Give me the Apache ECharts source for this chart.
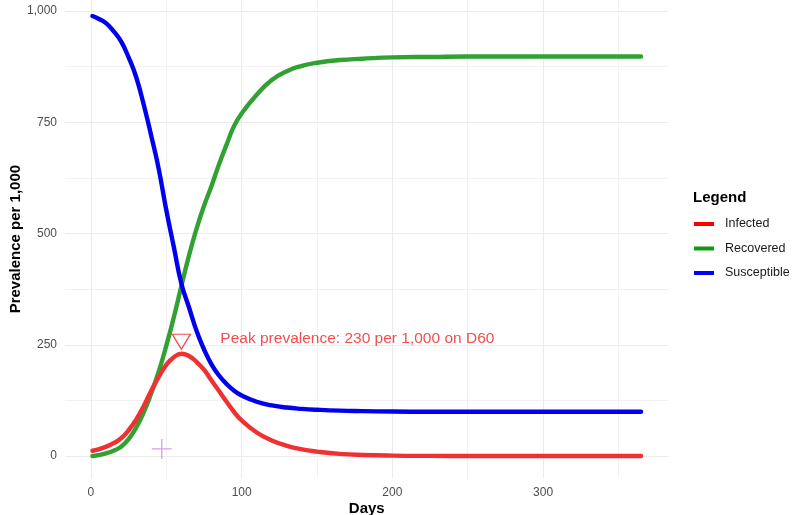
<!DOCTYPE html>
<html><head><meta charset="utf-8">
<script src="https://cdn.jsdelivr.net/npm/echarts@6/dist/echarts.min.js"></script>
<style>html,body{margin:0;padding:0;background:#fff}#c{width:792px;height:515px}</style>
</head><body><div id="c"></div>
<script>
const days        = [1,5,10,15,20,25,30,35,40,45,50,55,60,65,70,75,80,85,90,95,100,110,120,130,140,150,165,180,200,225,250,300,365];
const susceptible = [989,983,973,955,932,896,852,790,720,645,553,470,388,335,282,240,206,181,162,147,136,122,114,109,106,104,102,101,100,99.5,99.5,99.5,99.5];
const infected    = [12,15,21,29,40,58,82,112,147,178,205,222,230,225,212,194,170,146,122,99,80,53,35,23,15,10,5,2.5,1,0.4,0.2,0,0];
const recovered   = [0,2,6,12,21,38,64,98,141,190,248,312,382,450,510,562,607,656,700,742,770,812,845,865,877,884,890,893,896,897,898,898,898];

const seriesNames = ['Infected','Recovered','Susceptible'];
const lineColors  = {Infected:'#EF3131', Recovered:'#31A131', Susceptible:'#0000EE'};
const keyColors   = {Infected:'#FF0000', Recovered:'#119911', Susceptible:'#0000FF'};

const xMajorTicks = [0,100,200,300];
const xMinorTicks = [50,150,250,350];
const yMajorTicks = [0,250,500,750,1000];
const yMinorTicks = [125,375,625,875];

const peakDay = 60, peakValue = 230;
const crossPoint = [47, 16];

const FONT = 'Liberation Sans, Arial, sans-serif';
const xMin = -17.2, xMax = 383.2, yMin = -50, yMax = 1025;

const zip = arr => days.map((d,i) => [d, arr[i]]);
const valuesByName = {Infected: infected, Recovered: recovered, Susceptible: susceptible};

function lineSeries(name, z){
  return {
    name, type:'line', data: zip(valuesByName[name]), showSymbol:false, symbol:'none',
    smooth:0.5, z,
    lineStyle:{color:lineColors[name], width:4.4, cap:'round', join:'round'},
    itemStyle:{color:lineColors[name]}
  };
}

const chart = echarts.init(document.getElementById('c'), null, {renderer:'canvas'});
chart.setOption({
  animation:false,
  textStyle:{fontFamily:FONT},
  title:{text:'Legend', left:693, top:190, padding:0, textStyle:{fontSize:15, fontWeight:'bold', color:'#000', fontFamily:FONT}},
  legend:{
    orient:'vertical', left:694, top:217, padding:0, itemWidth:20, itemHeight:4, icon:'rect', itemGap:10.5,
    data: seriesNames.map(n => ({name:n, itemStyle:{color:keyColors[n]}})),
    textStyle:{fontSize:12.5, color:'#1A1A1A', lineHeight:14, padding:[0,0,0,6], fontFamily:FONT},
    selectedMode:false
  },
  grid:{left:65, right:123.5, top:0, bottom:36.7, containLabel:false, outerBoundsMode:'none'},
  xAxis:[
    {type:'value', min:xMin, max:xMax, position:'bottom',
     axisLine:{show:false}, axisTick:{show:false, customValues:xMajorTicks},
     axisLabel:{customValues:xMajorTicks, color:'#4D4D4D', fontSize:12, margin:8, fontFamily:FONT},
     splitLine:{show:true, lineStyle:{color:'#EBEBEB', width:1}},
     name:'Days', nameLocation:'middle', nameGap:23, nameMoveOverlap:false,
     nameTextStyle:{fontWeight:'bold', fontSize:15, color:'#000', fontFamily:FONT}},
    {type:'value', min:xMin, max:xMax, position:'bottom',
     axisLine:{show:false}, axisTick:{show:false, customValues:xMinorTicks},
     axisLabel:{show:false, customValues:xMinorTicks},
     splitLine:{show:true, lineStyle:{color:'#F1F1F1', width:1}}}
  ],
  yAxis:[
    {type:'value', min:yMin, max:yMax,
     axisLine:{show:false}, axisTick:{show:false, customValues:yMajorTicks},
     axisLabel:{customValues:yMajorTicks, color:'#4D4D4D', fontSize:12, margin:8, fontFamily:FONT,
       formatter: v => Number(v).toLocaleString('en-US')},
     splitLine:{show:true, lineStyle:{color:'#EBEBEB', width:1}},
     name:'Prevalence per 1,000', nameLocation:'middle', nameGap:42, nameMoveOverlap:false,
     nameTextStyle:{fontWeight:'bold', fontSize:15, color:'#000', fontFamily:FONT}},
    {type:'value', min:yMin, max:yMax,
     axisLine:{show:false}, axisTick:{show:false, customValues:yMinorTicks},
     axisLabel:{show:false, customValues:yMinorTicks},
     splitLine:{show:true, lineStyle:{color:'#F1F1F1', width:1}}}
  ],
  series:[
    lineSeries('Recovered', 2),
    lineSeries('Infected', 3),
    lineSeries('Susceptible', 4),
    {type:'scatter', name:'peakMarker', z:5, data:[[peakDay, peakValue]],
     symbol:'path://M0,0 L20,0 L10,17 Z', symbolSize:[18,15], symbolOffset:[0,-12],
     itemStyle:{color:'rgba(0,0,0,0)', borderColor:'#EE2222', borderWidth:1.3}},
    {type:'scatter', name:'peakLabel', z:5, data:[[peakDay, peakValue]], symbolSize:0,
     itemStyle:{color:'rgba(0,0,0,0)'},
     label:{show:true, position:[39,-15], align:'left', verticalAlign:'middle',
       formatter:`Peak prevalence: ${peakValue} per 1,000 on D${peakDay}`,
       color:'#F02020', fontSize:15.5, fontFamily:FONT}},
    {type:'scatter', name:'crossMarker', z:5, data:[crossPoint],
     symbol:'path://M10,0 L10,20 M0,10 L20,10', symbolSize:20,
     itemStyle:{color:'rgba(0,0,0,0)', borderColor:'#C88BE6', borderWidth:1.3}}
  ]
});
</script></body></html>
